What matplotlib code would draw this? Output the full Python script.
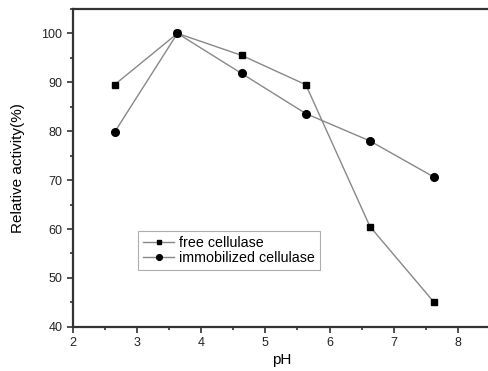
import matplotlib
matplotlib.use("Agg")
import matplotlib.pyplot as plt
from matplotlib.ticker import MultipleLocator

ph = [2.65, 3.63, 4.63, 5.63, 6.63, 7.63]
free = [89.5, 100, 95.5, 89.5, 60.5, 45.0]
immob = [79.8, 100, 91.8, 83.6, 78.0, 70.6]

plt.rcParams['font.family'] = ['Liberation Sans', 'DejaVu Sans']
fig = plt.figure(figsize=(4.89, 3.71), dpi=100)
ax = fig.add_axes([0.149, 0.119, 0.853, 0.857])

ax.plot(ph, free, color='#888888', lw=1.0, marker='s', ms=4.8, mfc='black', mec='black', label='free cellulase')
ax.plot(ph, immob, color='#888888', lw=1.0, marker='o', ms=5.5, mfc='black', mec='black', label='immobilized cellulase')

ax.set_xlim(2, 8.5)
ax.set_ylim(40, 105)
ax.xaxis.set_major_locator(MultipleLocator(1))
ax.xaxis.set_minor_locator(MultipleLocator(0.5))
ax.yaxis.set_major_locator(MultipleLocator(10))
ax.yaxis.set_minor_locator(MultipleLocator(5))
ax.tick_params(which='both', direction='out', labelsize=9, color='#333333', width=1.2, labelcolor='#222222')
ax.tick_params(which='major', length=4)
ax.tick_params(which='minor', length=2.5)
for s in ax.spines.values():
    s.set_linewidth(1.6)
    s.set_color('#333333')

ax.set_xlabel('pH', fontsize=11, labelpad=3)
ax.set_ylabel('Relative activity(%)', fontsize=11, labelpad=12)

leg = ax.legend(loc='upper left', bbox_to_anchor=(0.156, 0.302), fontsize=10.3,
                frameon=True, fancybox=False, edgecolor='#999999', handlelength=2.2,
                borderpad=0.35, labelspacing=0.05, handletextpad=0.35, borderaxespad=0,
                markerscale=0.75)
leg.get_frame().set_linewidth(0.8)

fig.savefig('out.png', dpi=100)
